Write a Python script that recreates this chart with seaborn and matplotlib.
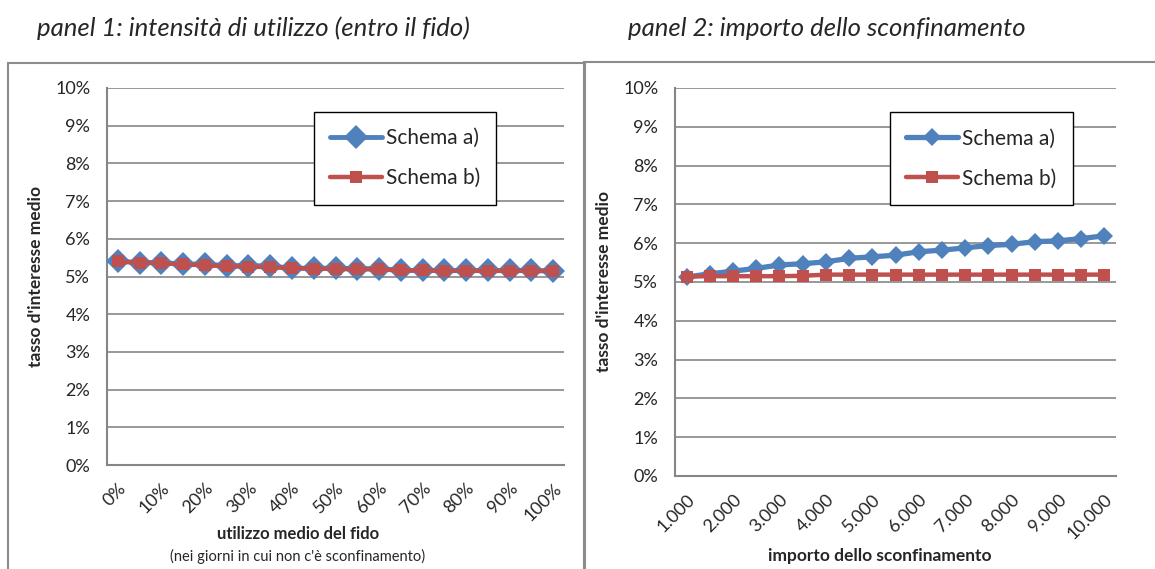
import matplotlib.pyplot as plt
import pandas as pd
import seaborn as sns
from matplotlib.patches import Rectangle
from matplotlib.ticker import FixedLocator, PercentFormatter

# dati
utilizzo = list(range(0, 101, 5))  # % di utilizzo medio del fido
p1_schema_a = [5.40, 5.37, 5.37, 5.33, 5.33, 5.29, 5.29, 5.28, 5.22, 5.22, 5.22,
               5.21, 5.21, 5.16, 5.16, 5.16, 5.16, 5.16, 5.16, 5.16, 5.14]
p1_schema_b = [5.40, 5.37, 5.35, 5.32, 5.30, 5.27, 5.26, 5.25, 5.22, 5.21, 5.20,
               5.19, 5.19, 5.16, 5.16, 5.15, 5.15, 5.15, 5.15, 5.15, 5.15]

sconfinamento = list(range(1000, 10001, 500))  # euro
p2_schema_a = [5.13, 5.21, 5.28, 5.35, 5.44, 5.47, 5.52, 5.61, 5.65, 5.69, 5.78,
               5.82, 5.88, 5.94, 5.97, 6.04, 6.06, 6.12, 6.19]
p2_schema_b = [5.14, 5.15, 5.15, 5.15, 5.15, 5.16, 5.19, 5.19, 5.19, 5.19, 5.19,
               5.19, 5.19, 5.19, 5.19, 5.19, 5.19, 5.19, 5.19]

p1_labels = [f"{v}%" for v in utilizzo]
p2_labels = [f"{v:,}".replace(",", ".") for v in sconfinamento]

BLUE = "#4F81BD"
RED = "#C0504D"
GRAY = "#868686"
W, H = 1155, 569

sns.set_theme(style="white")
plt.rcParams["font.family"] = ["Lato", "DejaVu Sans"]

fig = plt.figure(figsize=(W / 100, H / 100), dpi=100)


def box(left, top, right, bottom):
    # pixel -> coordinate figura
    return [left / W, 1 - bottom / H, (right - left) / W, (bottom - top) / H]


def pannello(ax, valori_a, valori_b, labels, d_size, lw_a):
    n = len(labels)
    df = pd.DataFrame({
        "pos": list(range(n)) * 2,
        "tasso": [v / 100 for v in valori_a + valori_b],
        "schema": ["Schema a)"] * n + ["Schema b)"] * n,
    })
    sns.lineplot(data=df[df["schema"] == "Schema a)"], x="pos", y="tasso", ax=ax,
                 color=BLUE, marker="D", markersize=d_size, markeredgewidth=0,
                 linewidth=lw_a, label="Schema a)", zorder=3)
    sns.lineplot(data=df[df["schema"] == "Schema b)"], x="pos", y="tasso", ax=ax,
                 color=RED, marker="s", markersize=8.5, markeredgewidth=0,
                 linewidth=3.2, label="Schema b)", zorder=4)

    ax.set_xlim(-0.5, n - 0.5)
    ax.set_ylim(0, 0.10)
    ax.yaxis.set_major_locator(FixedLocator([i / 100 for i in range(11)]))
    ax.yaxis.set_major_formatter(PercentFormatter(1.0, decimals=0))
    ax.xaxis.set_major_locator(FixedLocator(list(range(0, n, 2))))
    ax.set_xticklabels(labels[::2], rotation=45, ha="right", rotation_mode="anchor")
    ax.xaxis.set_minor_locator(FixedLocator([i - 0.5 for i in range(n + 1)]))
    ax.tick_params(axis="x", which="major", length=0, pad=11, labelsize=13)
    ax.tick_params(axis="x", which="minor", length=5, width=1.2, color=GRAY, direction="out")
    ax.tick_params(axis="y", which="major", length=5, width=1.2, color=GRAY,
                   direction="out", labelsize=13, pad=7)
    ax.grid(axis="y", color=GRAY, linewidth=1.2)
    ax.set_axisbelow(True)
    for s in ["top", "right"]:
        ax.spines[s].set_visible(False)
    for s in ["left", "bottom"]:
        ax.spines[s].set_color(GRAY)
        ax.spines[s].set_linewidth(1.5)
    ax.set_xlabel("")
    ax.set_ylabel("tasso d'interesse medio", fontsize=12.5, fontweight="bold", labelpad=8)
    leg = ax.legend(loc="upper right", fontsize=15, frameon=True, fancybox=False,
                    edgecolor="black", handlelength=2.5, handletextpad=0.15,
                    borderpad=0.8, labelspacing=0.95, framealpha=1)
    leg.get_frame().set_linewidth(1.0)
    return leg


# pannello 1
ax1 = fig.add_axes(box(107, 88, 564, 465))
leg1 = pannello(ax1, p1_schema_a, p1_schema_b, p1_labels, 12.5, 3.5)
leg1.set_bbox_to_anchor((0.875, 0.965))
fig.text(298 / W, 1 - 534 / H, "utilizzo medio del fido", fontsize=12, fontweight="bold",
         ha="center", va="center")
fig.text(298 / W, 1 - 556 / H, "(nei giorni in cui non c'è sconfinamento)", fontsize=10.5,
         ha="center", va="center")
fig.text(37 / W, 1 - 28 / H, "panel 1: intensità di utilizzo (entro il fido)",
         fontsize=18.5, style="italic", ha="left", va="center")

# pannello 2
ax2 = fig.add_axes(box(675, 88, 1116, 476))
leg2 = pannello(ax2, p2_schema_a, p2_schema_b, p2_labels, 9, 3.8)
leg2.set_bbox_to_anchor((0.925, 0.965))
fig.text(880 / W, 1 - 556 / H, "importo dello sconfinamento", fontsize=12.5, fontweight="bold",
         ha="center", va="center")
fig.text(628 / W, 1 - 28 / H, "panel 2: importo dello sconfinamento",
         fontsize=18.5, style="italic", ha="left", va="center")

# cornici dei due riquadri
fig.patches.append(Rectangle((8 / W, -0.1), (585 - 8) / W, 0.1 + 1 - 63 / H,
                             transform=fig.transFigure, fill=False, ec="#8C8C8C", lw=1.5))
fig.patches.append(Rectangle((584 / W, -0.1), 0.6, 0.1 + 1 - 62 / H,
                             transform=fig.transFigure, fill=False, ec="#8C8C8C", lw=1.5))

fig.savefig("out.png", dpi=100)
